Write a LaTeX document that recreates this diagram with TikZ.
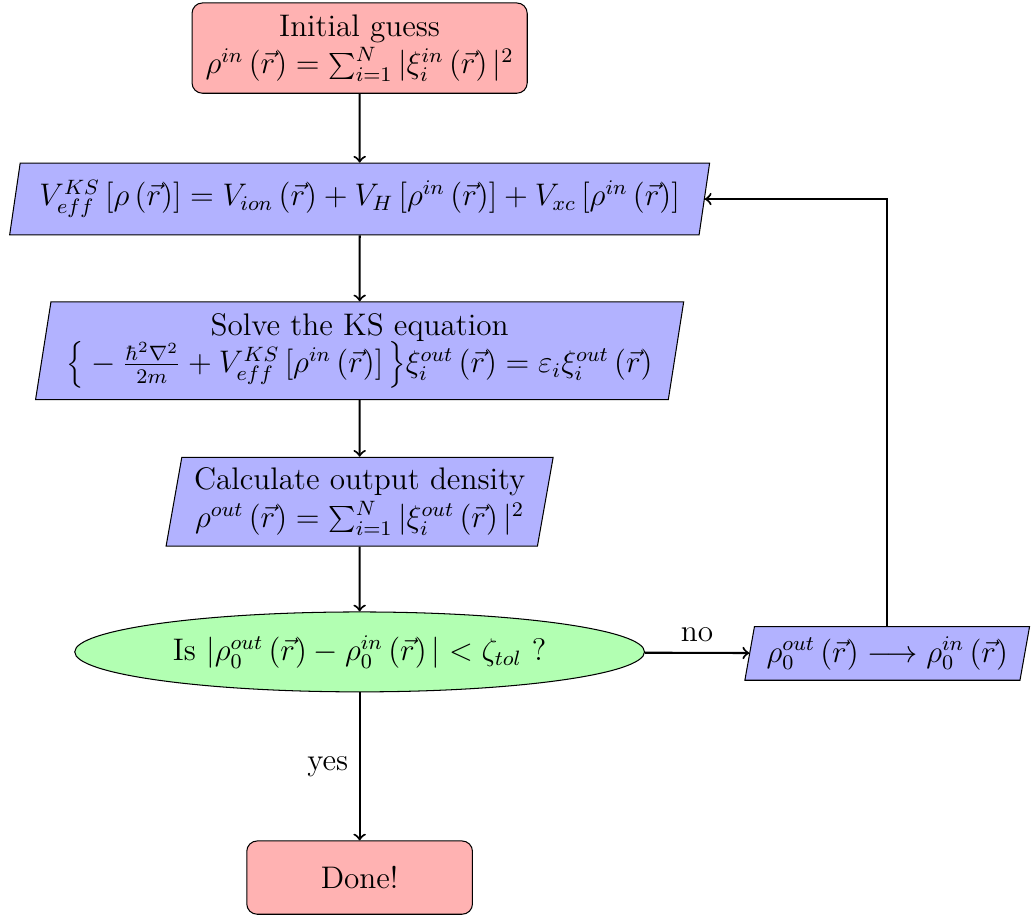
\documentclass[tikz,border=0pt,12pt]{standalone}
\usetikzlibrary{shapes.geometric}

\begin{document}
\begin{tikzpicture}
    \tikzstyle{startstop}=[draw, rounded corners, fill=red!30, align=center]
    \tikzstyle{io}=[draw, trapezium, trapezium left angle=80, trapezium right angle=100, trapezium stretches=true, fill=blue!30, align=center]
    \tikzstyle{decision}=[draw, ellipse, fill=green!30, align=center]
    \tikzstyle{arrow}=[thick, ->]
    \useasboundingbox (0,0) rectangle (13.96,-12.39);

    \node (init) [startstop, minimum width=4.53cm, minimum height=1.22cm] at (4.86,-0.65) {Initial guess\\ $\rho^{in}\left(\vec{r}\right)=\sum_{i=1}^N|\xi_i^{in}\left(\vec{r}\right)|^2$};
    \node (veff) [io, minimum width=9.46cm, minimum height=0.97cm] at (4.86,-2.69) {$V_{eff}^{KS}\left[\rho\left(\vec{r}\right)\right]=V_{ion}\left(\vec{r}\right)+V_H\left[\rho^{in}\left(\vec{r}\right)\right]+V_{xc}\left[\rho^{in}\left(\vec{r}\right)\right]$};
    \node (solve) [io, minimum width=8.78cm, minimum height=1.32cm, inner ysep=2pt] at (4.86,-4.74) {Solve the KS equation\\ $\Big\{-\frac{\hbar^2\nabla^2}{2m}+V_{eff}^{KS}\left[\rho^{in}\left(\vec{r}\right)\right]\Big\}\xi_i^{out}\left(\vec{r}\right)=\varepsilon_i\xi_i^{out}\left(\vec{r}\right)$};
    \node (calc) [io, minimum width=5.24cm, minimum height=1.2cm] at (4.86,-6.78) {Calculate output density\\ $\rho^{out}\left(\vec{r}\right)=\sum_{i=1}^N|\xi_i^{out}\left(\vec{r}\right)|^2$};
    \node (check) [decision, minimum width=7.7cm, minimum height=1.08cm, inner sep=0pt] at (4.86,-8.81) {Is $|\rho_0^{out}\left(\vec{r}\right)-\rho_0^{in}\left(\vec{r}\right)|<\zeta_{tol}$ ?};
    \node (update) [io, minimum width=3.85cm, minimum height=0.72cm] at (11.99,-8.83) {$\rho_0^{out}\left(\vec{r}\right)\longrightarrow\rho_0^{in}\left(\vec{r}\right)$};
    \node (done) [startstop, minimum width=3.05cm, minimum height=0.99cm] at (4.86,-11.86) {Done!};

    \draw [arrow] (init) -- (veff);
    \draw [arrow] (veff) -- (solve);
    \draw [arrow] (solve) -- (calc);
    \draw [arrow] (calc) -- (check);
    \draw [arrow] (check) -- node [above] {no} (update);
    \draw [arrow] (check) -- node [left] {yes} (done);
    \draw [arrow] (update.north) |- (veff);
\end{tikzpicture}
\end{document}
